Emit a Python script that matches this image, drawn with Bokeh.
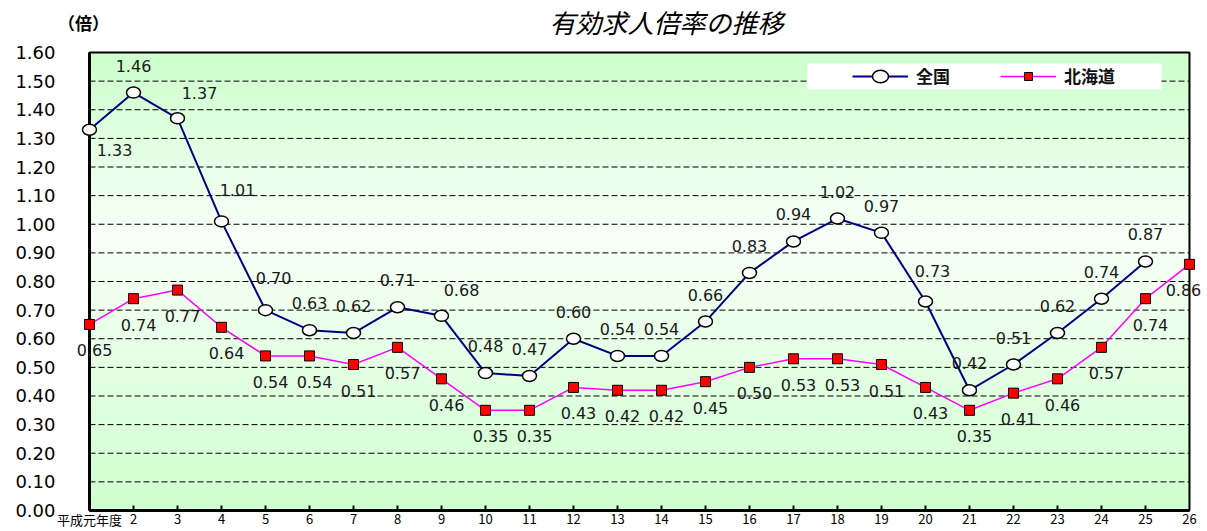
from bokeh.plotting import figure
from bokeh.models import Range1d, Label, BoxAnnotation, ColumnDataSource
from bokeh.embed import file_html
from bokeh.resources import INLINE
from bokeh.core.properties import value
import math

# ---------------- data ----------------
years = ["平成元年度"] + [str(i) for i in range(2, 27)]
national = [1.33, 1.46, 1.37, 1.01, 0.70, 0.63, 0.62, 0.71, 0.68, 0.48,
            0.47, 0.60, 0.54, 0.54, 0.66, 0.83, 0.94, 1.02, 0.97, 0.73,
            0.42, 0.51, 0.62, 0.74, 0.87, float("nan")]
hokkaido = [0.65, 0.74, 0.77, 0.64, 0.54, 0.54, 0.51, 0.57, 0.46, 0.35,
            0.35, 0.43, 0.42, 0.42, 0.45, 0.50, 0.53, 0.53, 0.51, 0.43,
            0.35, 0.41, 0.46, 0.57, 0.74, 0.86]
y_ticks = [0.0, 0.1, 0.2, 0.3, 0.4, 0.5, 0.6, 0.7, 0.8, 0.9, 1.0,
           1.1, 1.2, 1.3, 1.4, 1.5, 1.6]
y_tick_labels = ["%.2f" % t for t in y_ticks]
series_names = ["全国", "北海道"]
title_text = "有効求人倍率の推移"
unit_text = "（倍）"

xs = list(range(1, len(years) + 1))
y_min, y_max = y_ticks[0], y_ticks[-1]

W, H = 1205, 529
# ---------------- figure (frame fills the canvas) ----------------
p = figure(width=W, height=H,
           x_range=Range1d(-1.0227, 26.364), y_range=Range1d(-0.0664, 1.7817),
           output_backend="svg", toolbar_location=None,
           x_axis_location=None, y_axis_location=None,
           min_border=0, min_border_left=0, min_border_right=0,
           min_border_top=0, min_border_bottom=0)
p.outline_line_color = None
p.grid.visible = False
p.background_fill_color = "white"
p.border_fill_color = "white"

# gradient background (style strips)
n_strips = 90
lefts, rights, bottoms, tops, cols = [], [], [], [], []
step = (y_max - y_min) / n_strips
for i in range(n_strips):
    b = y_min + step * i
    t = b + step
    f = 1 - ((b + t) / 2 - y_min) / (y_max - y_min)  # 0 top -> 1 bottom
    peak = 0.40
    if f < peak:
        c = 204 + (248 - 204) * (f / peak)
    else:
        c = 248 - (248 - 206) * ((f - peak) / (1 - peak))
    c = int(round(c))
    lefts.append(xs[0]); rights.append(xs[-1])
    bottoms.append(b); tops.append(min(t + step * 0.3, y_max))
    cols.append("#%02x%02x%02x" % (c, 255, c))
p.quad(left=lefts, right=rights, bottom=bottoms, top=tops,
       fill_color=cols, line_alpha=0)

# dashed gridlines
grid_y = y_ticks[1:-1]
p.segment(x0=xs[0], x1=xs[-1], y0=grid_y, y1=grid_y,
          line_color="black", line_dash="6 3", line_width=1)

# plot border
p.quad(left=xs[0], right=xs[-1], bottom=y_min, top=y_max,
       fill_alpha=0, line_color="black", line_width=2)
p.segment(x0=xs[0], x1=xs[0], y0=y_min, y1=y_max, line_color="black", line_width=3)
p.segment(x0=xs[0], x1=xs[-1], y0=y_min, y1=y_min, line_color="black", line_width=3)

# inward category ticks
p.ray(x=xs[1:-1], y=y_min, length=5, length_units="screen",
      angle=90, angle_units="deg", line_color="black", line_width=2)

# category labels (x axis)
p.text(x=xs, y=[y_min] * len(xs), text=years, y_offset=9,
       text_align="center", text_baseline="middle",
       text_font=value("Noto Sans CJK JP"), text_font_size="13px",
       text_color="black")

# value axis labels
p.text(x=[xs[0]] * len(y_ticks), y=y_ticks, text=y_tick_labels, x_offset=-34,
       text_align="right", text_baseline="middle",
       text_font=value("DejaVu Sans"), text_font_size="18px", text_color="black")

# white legend box
box = BoxAnnotation(left=807, right=1161, bottom=H - 89, top=H - 63,
                    left_units="screen", right_units="screen",
                    top_units="screen", bottom_units="screen",
                    fill_color="white", fill_alpha=1.0, line_alpha=0)
p.add_layout(box)

# series
p.line(xs, national, line_color="#000080", line_width=2, legend_label=series_names[0])
p.ellipse(x=xs, y=national, width=14, height=11,
          width_units="screen", height_units="screen",
          fill_color="white", line_color="black", line_width=1.5,
          legend_label=series_names[0])
p.line(xs, hokkaido, line_color="#ff00ff", line_width=1.5, legend_label=series_names[1])
p.scatter(xs, hokkaido, marker="square", size=10, fill_color="#ff0000",
          line_color="black", line_width=1, legend_label=series_names[1])

# value labels
n_x, n_y, n_t, n_xo, n_yo = [], [], [], [], []
special_n = {0: (25, 20), 2: (22, -25), 3: (16, -31), 4: (8, -32),
             8: (20, -26), 19: (7, -31)}
for i, v in enumerate(national):
    if v is None or (isinstance(v, float) and math.isnan(v)):
        continue
    n_x.append(xs[i]); n_y.append(v); n_t.append("%.2f" % v)
    xo, yo = special_n.get(i, (0, -27))
    n_xo.append(xo); n_yo.append(yo)
p.text(x="x", y="y", text="t", x_offset="xo", y_offset="yo",
       source=ColumnDataSource(dict(x=n_x, y=n_y, t=n_t, xo=n_xo, yo=n_yo)),
       text_align="center", text_baseline="middle",
       text_font=value("DejaVu Sans"), text_font_size="16px", text_color="#1a1a1a")

h_x, h_y, h_t, h_xo, h_yo = [], [], [], [], []
special_h = {len(hokkaido) - 1: (-6, 26)}
for i, v in enumerate(hokkaido):
    h_x.append(xs[i]); h_y.append(v); h_t.append("%.2f" % v)
    xo, yo = special_h.get(i, (5, 26))
    h_xo.append(xo); h_yo.append(yo)
p.text(x="x", y="y", text="t", x_offset="xo", y_offset="yo",
       source=ColumnDataSource(dict(x=h_x, y=h_y, t=h_t, xo=h_xo, yo=h_yo)),
       text_align="center", text_baseline="middle",
       text_font=value("DejaVu Sans"), text_font_size="16px", text_color="#1a1a1a")

# legend
lg = p.legend[0]
lg.location = (847, H - 93)
lg.orientation = "horizontal"
lg.background_fill_alpha = 0
lg.border_line_alpha = 0
lg.glyph_width = 56
lg.glyph_height = 20
lg.label_standoff = 8
lg.spacing = 30
lg.padding = 5
lg.margin = 0
lg.label_width = 54
lg.label_text_font = "Noto Sans CJK JP"
lg.label_text_font_size = "17px"
lg.label_text_font_style = "bold"
lg.label_text_color = "#111111"

# title and unit
p.add_layout(Label(x=666, y=H - 2, x_units="screen", y_units="screen",
                   text=title_text, text_align="center", text_baseline="top",
                   text_font="Noto Sans CJK JP", text_font_style="italic",
                   text_font_size="26px", text_color="black"))
p.add_layout(Label(x=83, y=H - 22, x_units="screen", y_units="screen",
                   text=unit_text, text_align="center", text_baseline="middle",
                   text_font="Noto Sans CJK JP", text_font_style="bold",
                   text_font_size="17px", text_color="black"))

open("out.html", "w").write(file_html(p, INLINE))
